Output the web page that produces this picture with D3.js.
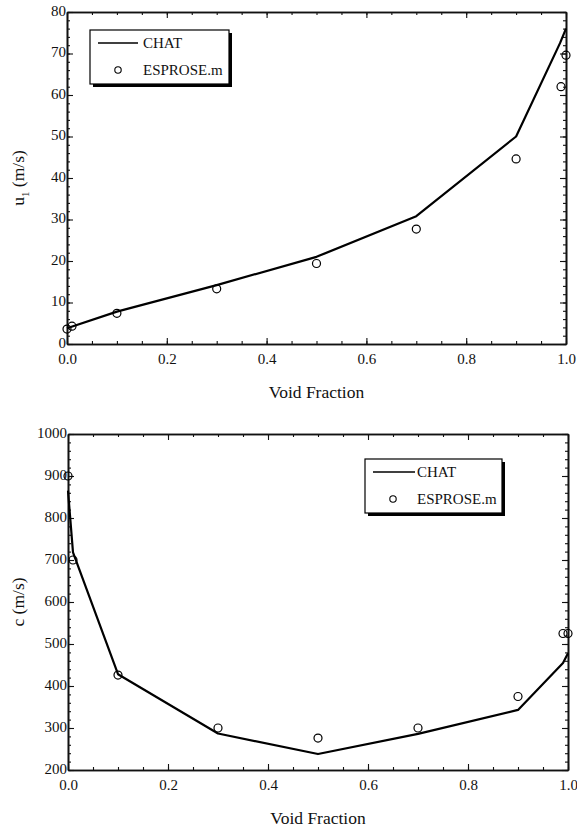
<!DOCTYPE html>
<html><head><meta charset="utf-8">
<script src="https://cdn.jsdelivr.net/npm/d3@7"></script>
<style>
body{margin:0;background:#fff;}
svg text{font-family:'Liberation Serif','DejaVu Serif',serif !important;fill:#111;}
</style></head><body>
<svg id="c" width="577" height="828"></svg>
<script>
// ---- data ----
const chatX1 = [0, 0.1, 0.3, 0.5, 0.7, 0.9, 0.988, 1.0];
const chatU1 = [3.8, 7.8, 14.2, 21.0, 30.8, 50.0, 72.5, 76.0];
const espX1  = [0, 0.01, 0.1, 0.3, 0.5, 0.7, 0.9, 0.99, 1.0];
const espU1  = [3.6, 4.3, 7.4, 13.3, 19.4, 27.7, 44.6, 62.0, 69.6];

const chatX2 = [0, 0.01, 0.1, 0.3, 0.5, 0.7, 0.9, 0.99, 1.0];
const chatC  = [865, 718, 428, 287, 238, 286, 343, 455, 478];
const espX2  = [0, 0.01, 0.1, 0.3, 0.5, 0.7, 0.9, 0.99, 1.0];
const espC   = [900, 700, 426, 300, 276, 300, 375, 525, 525];

const xTicks = [0, 0.2, 0.4, 0.6, 0.8, 1.0];
const uTicks = [0, 10, 20, 30, 40, 50, 60, 70, 80];
const cTicks = [200, 300, 400, 500, 600, 700, 800, 900, 1000];
const legendLabels = ["CHAT", "ESPROSE.m"];

const FONT = "'Liberation Serif','DejaVu Serif',serif";
const svg = d3.select("#c");

function panel(cfg){
  const {x0,x1,y0,y1,yDomain,yTicks,yMinorStep,xs,ys,ex,ey,legend,ylabel} = cfg;
  const x = d3.scaleLinear().domain([0,1]).range([x0,x1]);
  const y = d3.scaleLinear().domain(yDomain).range([y1,y0]);
  const g = svg.append("g");
  const xMinor = d3.range(0, 1.0001, 0.05);
  const yMinor = d3.range(yDomain[0], yDomain[1]+0.001, yMinorStep);

  function style(sel){
    sel.attr("font-family", null);
    sel.selectAll("path.domain").attr("stroke","#111").attr("stroke-width",1.6);
    sel.selectAll(".tick line").attr("stroke","#111").attr("stroke-width",1.1);
    sel.selectAll("text").attr("font-size",15).attr("fill","#111").style("font-family",FONT);
  }
  const mk = (ax) => ax.tickFormat("").tickSizeOuter(0);
  g.append("g").attr("transform",`translate(0,${y1})`).call(mk(d3.axisBottom(x).tickValues(xMinor).tickSizeInner(-3))).call(style);
  g.append("g").attr("transform",`translate(0,${y0})`).call(mk(d3.axisTop(x).tickValues(xMinor).tickSizeInner(-3))).call(style);
  g.append("g").attr("transform",`translate(${x0},0)`).call(mk(d3.axisLeft(y).tickValues(yMinor).tickSizeInner(-3))).call(style);
  g.append("g").attr("transform",`translate(${x1},0)`).call(mk(d3.axisRight(y).tickValues(yMinor).tickSizeInner(-3))).call(style);
  g.append("g").attr("transform",`translate(0,${y1})`)
    .call(d3.axisBottom(x).tickValues(xTicks).tickFormat(d3.format(".1f")).tickSizeInner(-6).tickSizeOuter(0).tickPadding(9))
    .call(style);
  g.append("g").attr("transform",`translate(0,${y0})`)
    .call(d3.axisTop(x).tickValues(xTicks).tickFormat("").tickSizeInner(-6).tickSizeOuter(0)).call(style);
  const yl0 = g.append("g").attr("transform",`translate(${x0},0)`)
    .call(d3.axisLeft(y).tickValues(yTicks).tickFormat(d3.format("d")).tickSizeInner(-6).tickSizeOuter(0).tickPadding(1))
    .call(style);
  yl0.selectAll(".tick text").attr("dy","0.22em");
  g.append("g").attr("transform",`translate(${x1},0)`)
    .call(d3.axisRight(y).tickValues(yTicks).tickFormat("").tickSizeInner(-6).tickSizeOuter(0)).call(style);

  const line = d3.line().x(d=>x(d[0])).y(d=>y(d[1]));
  g.append("path").datum(xs.map((v,i)=>[v,ys[i]]))
    .attr("d",line).attr("fill","none").attr("stroke","#000").attr("stroke-width",2.2).attr("stroke-linejoin","round");
  g.selectAll("circle.pt").data(ex.map((v,i)=>[v,ey[i]])).enter().append("circle")
    .attr("class","pt").attr("cx",d=>x(d[0])).attr("cy",d=>y(d[1])).attr("r",4)
    .attr("fill","none").attr("stroke","#000").attr("stroke-width",1.2);

  g.append("text").attr("x",(x0+x1)/2).attr("y",y1+54).attr("text-anchor","middle")
    .attr("font-size",17.5).style("font-family",FONT).text("Void Fraction");
  const yl = g.append("text").attr("transform",`translate(${ylabel.x},${(y0+y1)/2}) rotate(-90)`)
    .attr("text-anchor","middle").attr("font-size",17.5).style("font-family",FONT);
  ylabel.build(yl);

  const L = legend;
  g.append("rect").attr("x",L.x+3).attr("y",L.y+3).attr("width",L.w).attr("height",L.h).attr("fill","#000");
  g.append("rect").attr("x",L.x).attr("y",L.y).attr("width",L.w).attr("height",L.h).attr("fill","#fff")
    .attr("stroke","#000").attr("stroke-width",1.2);
  g.append("line").attr("x1",L.x+8).attr("x2",L.x+L.lw).attr("y1",L.y+13).attr("y2",L.y+13)
    .attr("stroke","#000").attr("stroke-width",1.6);
  g.append("text").attr("x",L.x+L.tx).attr("y",L.y+18).attr("font-size",15).style("font-family",FONT).text(legendLabels[0]);
  g.append("circle").attr("cx",L.x+L.cx).attr("cy",L.y+40).attr("r",3.2)
    .attr("fill","none").attr("stroke","#000").attr("stroke-width",1.1);
  g.append("text").attr("x",L.x+L.tx).attr("y",L.y+45).attr("font-size",15).style("font-family",FONT).text(legendLabels[1]);
}

panel({x0:67,x1:566,y0:12,y1:344,yDomain:[0,80],yTicks:uTicks,yMinorStep:2,
  xs:chatX1,ys:chatU1,ex:espX1,ey:espU1,
  legend:{x:90,y:30,w:139,h:54,lw:48,tx:53,cx:28},
  ylabel:{x:24,build:t=>{t.append("tspan").text("u");t.append("tspan").attr("font-size",11).attr("dy",5).text("1");t.append("tspan").attr("dy",-5).text(" (m/s)");}}});

panel({x0:68,x1:568,y0:434,y1:770,yDomain:[200,1000],yTicks:cTicks,yMinorStep:20,
  xs:chatX2,ys:chatC,ex:espX2,ey:espC,
  legend:{x:365,y:459,w:137,h:54,lw:50,tx:52,cx:28},
  ylabel:{x:24,build:t=>{t.text("c (m/s)");}}});
</script>
</body></html>
